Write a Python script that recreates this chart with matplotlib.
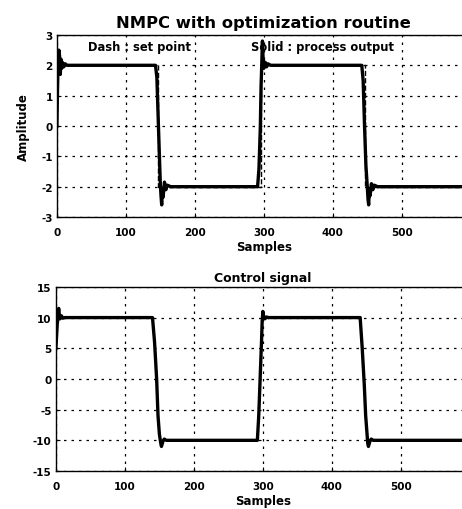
import matplotlib.pyplot as plt

plt.rcParams['font.family'] = ['DejaVu Sans']
plt.rcParams['font.weight'] = 'bold'
plt.rcParams['axes.unicode_minus'] = False

# set point (dashed)
sp_t = [0, 0, 146, 146, 296, 296, 446, 446, 600]
sp_y = [0, 2, 2, -2, -2, 2, 2, -2, -2]

# process output (solid)
out_t = [0, 1, 2, 3, 4, 5, 6, 7, 8, 10, 12, 15, 20, 143, 145, 147, 149, 150, 151,
         152, 153, 154, 156, 158, 160, 165, 291, 293, 295, 296, 297, 298, 299, 300,
         302, 304, 306, 310, 315, 442, 444, 446, 448, 450, 451, 452, 453, 454, 456,
         458, 460, 465, 600]
out_y = [0, 1.2, 2.2, 2.5, 2.3, 1.7, 2.2, 1.9, 2.1, 1.95, 2.05, 2.0, 2.0, 2.0, 1.6,
         0.2, -1.2, -1.9, -2.3, -2.6, -2.1, -2.35, -1.85, -2.1, -1.95, -2.0, -2.0,
         -1.4, 0.0, 1.3, 2.0, 2.8, 2.2, 1.9, 2.1, 1.95, 2.05, 2.0, 2.0, 2.0, 1.5,
         0.0, -1.3, -2.0, -2.4, -2.6, -2.1, -2.3, -1.9, -2.1, -1.95, -2.0, -2.0]

# control signal
u_t = [0, 1, 2, 3, 4, 5, 6, 8, 10, 13, 140, 143, 146, 148, 150, 152, 153, 155, 157,
       160, 292, 294, 296, 298, 299, 300, 301, 303, 305, 308, 441, 444, 447, 449,
       451, 452, 453, 455, 457, 460, 600]
u_y = [5, 7, 9, 10, 11.5, 10.5, 9.8, 10.3, 9.9, 10, 10, 6, 0, -6, -9, -10.5, -11,
       -10.2, -9.8, -10, -10, -6, 0, 6, 9.5, 11, 10.2, 9.8, 10.1, 10, 10, 5, -1,
       -6, -9, -10.5, -11, -10.2, -9.8, -10, -10]

xticks = [0, 100, 200, 300, 400, 500]

fig = plt.figure(figsize=(4.62, 5.10), dpi=100)
ax1 = fig.add_axes([0.123, 0.5725, 0.896, 0.357])
ax2 = fig.add_axes([0.121, 0.0745, 0.896, 0.361])

ax1.plot(sp_t, sp_y, color='black', lw=1.0, ls='--')
ax1.plot(out_t, out_y, color='black', lw=2.4)
ax1.set_xlim(0, 600)
ax1.set_ylim(-3, 3)
ax1.set_yticks([-3, -2, -1, 0, 1, 2, 3])
ax1.set_xticks(xticks)
ax1.set_title('NMPC with optimization routine', fontsize=11.8, fontweight='bold', pad=6)
ax1.set_xlabel('Samples', fontsize=8.5, fontweight='bold', labelpad=2)
ax1.set_ylabel('Amplitude', fontsize=8.5, fontweight='bold', labelpad=8)
ax1.text(0.075, 0.975, 'Dash : set point', transform=ax1.transAxes, fontsize=8.3,
         fontweight='bold', va='top')
ax1.text(0.47, 0.975, 'Solid : process output', transform=ax1.transAxes, fontsize=8.3,
         fontweight='bold', va='top')

ax2.plot(u_t, u_y, color='black', lw=2.4)
ax2.set_xlim(0, 600)
ax2.set_ylim(-15, 15)
ax2.set_yticks([-15, -10, -5, 0, 5, 10, 15])
ax2.set_xticks(xticks)
ax2.set_title('Control signal', fontsize=9, fontweight='bold', pad=4)
ax2.set_xlabel('Samples', fontsize=8.5, fontweight='bold', labelpad=2)

for ax in (ax1, ax2):
    ax.grid(True, color='black', ls=(0, (2, 4)), lw=0.9)
    ax.tick_params(direction='in', length=3, labelsize=7.5)
    ax.tick_params(axis='x', pad=7)
    ax.tick_params(axis='y', pad=3)
    for lab in ax.get_xticklabels() + ax.get_yticklabels():
        lab.set_fontweight('bold')
    for s in ax.spines.values():
        s.set_linewidth(1.0)

fig.savefig('out.png', dpi=100)
